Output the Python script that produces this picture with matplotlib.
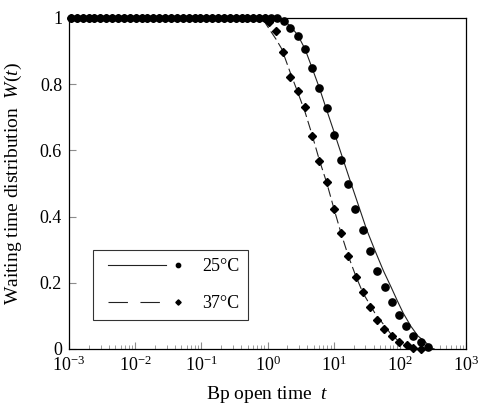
import matplotlib
matplotlib.use('Agg')
import matplotlib.pyplot as plt
from matplotlib.lines import Line2D
from matplotlib.legend_handler import HandlerBase
import numpy as np

plt.rcParams['font.family'] = ['Liberation Serif', 'DejaVu Serif']
plt.rcParams['mathtext.fontset'] = 'custom'
plt.rcParams['mathtext.rm'] = 'Liberation Serif'
plt.rcParams['mathtext.it'] = 'Liberation Serif:italic'
plt.rcParams['lines.scale_dashes'] = False

# values (log10 of open time t, W(t))
flat_log_t = [-2.97, -2.88, -2.79, -2.70, -2.62, -2.53, -2.44, -2.35, -2.26, -2.17,
              -2.08, -1.99, -1.90, -1.82, -1.73, -1.64, -1.55, -1.46, -1.37, -1.28,
              -1.19, -1.10, -1.02, -0.93, -0.84, -0.75, -0.66, -0.57, -0.48, -0.39,
              -0.31, -0.22, -0.13, -0.04, 0.05, 0.14]

pts25_log_t = flat_log_t + [0.254, 0.340, 0.456, 0.567, 0.668, 0.778, 0.892, 1.005, 1.106,
                            1.216, 1.322, 1.436, 1.549, 1.659, 1.768, 1.877, 1.987, 2.093,
                            2.199, 2.315, 2.421]
pts25_W = [1.0] * len(flat_log_t) + [0.991, 0.970, 0.947, 0.906, 0.849, 0.789, 0.727, 0.647,
                                     0.571, 0.498, 0.423, 0.360, 0.297, 0.237, 0.188, 0.143,
                                     0.103, 0.068, 0.039, 0.020, 0.006]

pts37_log_t = flat_log_t[:34] + [0.027, 0.124, 0.227, 0.340, 0.456, 0.567, 0.672, 0.783, 0.895,
                                 1.005, 1.111, 1.221, 1.333, 1.443, 1.556, 1.655, 1.765, 1.881,
                                 1.992, 2.104, 2.206, 2.320]
pts37_W = [1.0] * 34 + [0.989, 0.961, 0.897, 0.823, 0.779, 0.730, 0.644, 0.569, 0.504, 0.423,
                        0.350, 0.282, 0.218, 0.171, 0.126, 0.089, 0.059, 0.038, 0.021, 0.012,
                        0.002, 0.0]

line25_log_t = [-3, 0.15, 0.25, 0.34, 0.456, 0.567, 0.668, 0.778, 0.889, 1.005, 1.145, 1.266,
                1.393, 1.499, 1.625, 1.750, 1.877, 1.968, 2.052, 2.169, 2.275, 2.38, 2.48, 2.52]
line25_W = [1, 1, 0.993, 0.976, 0.949, 0.906, 0.852, 0.792, 0.725, 0.656, 0.571, 0.498,
            0.423, 0.360, 0.297, 0.237, 0.183, 0.143, 0.108, 0.068, 0.039, 0.022, 0.003, 0]

line37_log_t = [-3, -0.12, -0.05, 0.038, 0.125, 0.214, 0.34, 0.456, 0.567, 0.672, 0.783, 0.895,
                1.005, 1.111, 1.221, 1.333, 1.443, 1.624, 1.877, 2.052, 2.203, 2.274]
line37_W = [1, 1, 0.99, 0.963, 0.937, 0.907, 0.837, 0.776, 0.716, 0.648, 0.571, 0.502,
            0.423, 0.350, 0.281, 0.221, 0.169, 0.108, 0.042, 0.012, 0.002, 0]

labels = ['25°C', '37°C']
y_ticks = [0, 0.2, 0.4, 0.6, 0.8, 1]
y_tick_labels = ['0', '0.2', '0.4', '0.6', '0.8', '1']


class LineThenMarker(HandlerBase):
    # line sample followed by a small marker, like the original legend
    def create_artists(self, legend, orig_handle, xdescent, ydescent,
                       width, height, fontsize, trans):
        line, pts = orig_handle
        y = height / 2 - ydescent
        x0 = -xdescent
        seg = Line2D([x0 + 0.09 * width, x0 + 0.81 * width], [y, y], color=line.get_color(),
                     lw=line.get_linewidth())
        if line.get_linestyle() != '-':
            seg.set_dashes((14, 9))
        dot = Line2D([x0 + 0.97 * width], [y], ls='none', marker=pts.get_marker(),
                     ms=pts.get_markersize() * 0.6, color=pts.get_color())
        seg.set_transform(trans)
        dot.set_transform(trans)
        return [seg, dot]


fig = plt.figure(figsize=(4.79, 4.05), dpi=100)
ax = fig.add_axes([0.1441, 0.1383, 0.8288, 0.8173])

l25, = ax.plot(10 ** np.array(line25_log_t), line25_W, color='#222222', lw=0.8)
l37, = ax.plot(10 ** np.array(line37_log_t), line37_W, color='#222222', lw=0.8,
               dashes=(7, 3))
p37, = ax.plot(10 ** np.array(pts37_log_t), pts37_W, ls='none', marker='D', ms=4.5,
               color='black', clip_on=False, zorder=3)
p25, = ax.plot(10 ** np.array(pts25_log_t), pts25_W, ls='none', marker='o', ms=5.2,
               color='black', clip_on=False, zorder=4)

ax.set_xscale('log')
ax.set_xlim(1e-3, 1e3)
ax.set_ylim(0, 1)
ax.set_yticks(y_ticks)
ax.set_yticklabels(y_tick_labels)

ax.tick_params(which='both', direction='in', top=False, right=False, color='#8c8c8c',
               labelsize=13)
ax.tick_params(which='major', length=5, pad=5)
ax.tick_params(which='minor', length=3)
for s in ax.spines.values():
    s.set_linewidth(0.9)

ax.set_xlabel('Bp open time  $t$', fontsize=14)
ax.set_ylabel('Waiting time distribution  $W$($t$)', fontsize=14)
ax.xaxis.set_label_coords(0.5, -0.105)
ax.yaxis.set_label_coords(-0.113, 0.5)

leg = ax.legend([(l25, p25), (l37, p37)], labels, handler_map={tuple: LineThenMarker()},
                loc='lower left', bbox_to_anchor=(0.0605, 0.0876), borderaxespad=0,
                fontsize=13, handlelength=4.4, handletextpad=1.2, borderpad=0.45,
                labelspacing=1.1, fancybox=False, frameon=True)
leg.get_frame().set_edgecolor('black')
leg.get_frame().set_linewidth(0.8)

fig.savefig('out.png', dpi=100)
